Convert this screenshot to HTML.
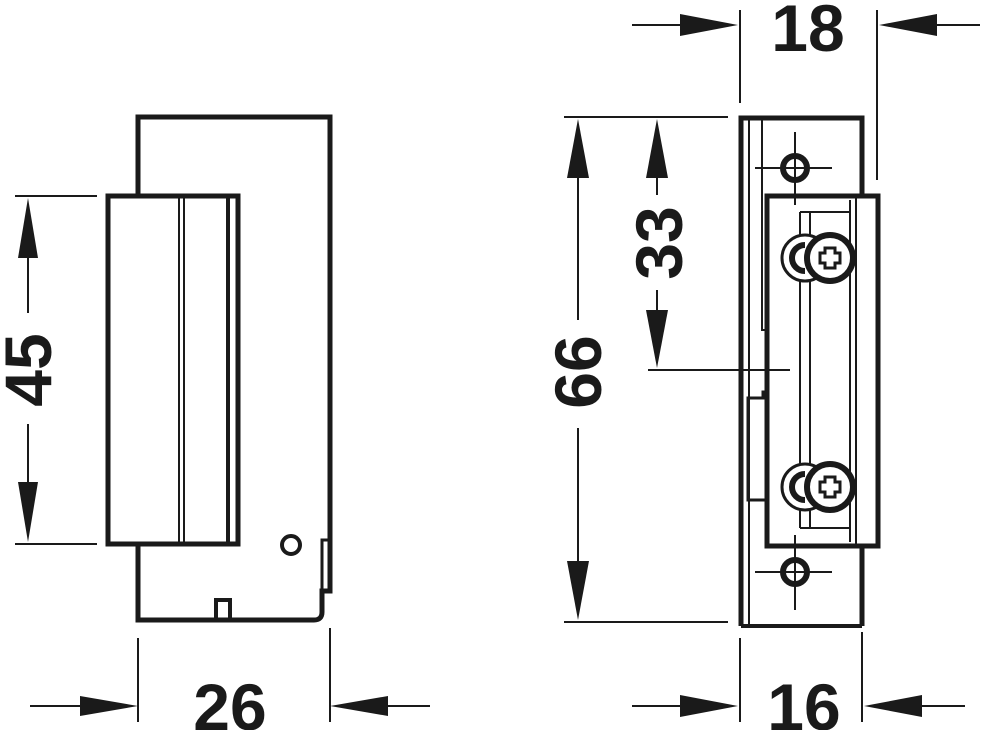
<!DOCTYPE html>
<html><head><style>html,body{margin:0;padding:0;background:#fff}svg{display:block}</style></head><body>
<svg width="981" height="730" viewBox="0 0 981 730" xmlns="http://www.w3.org/2000/svg">
<g stroke="#1a1a1a" fill="none" stroke-linecap="butt">
<!-- LEFT VIEW -->
<path d="M138,196 V117 H330 V591 H322 V612 Q322,620 314,620 H138 V544" stroke-width="5"/>
<rect x="108" y="196" width="130" height="348" stroke-width="5"/>
<line x1="179" y1="196" x2="179" y2="544" stroke-width="2"/>
<line x1="184" y1="196" x2="184" y2="544" stroke-width="2"/>
<line x1="228" y1="196" x2="228" y2="544" stroke-width="4"/>
<circle cx="291" cy="545" r="9" stroke-width="4"/>
<path d="M322,591 V540 H330" stroke-width="3"/>
<path d="M216,620 V600 H230 V620" stroke-width="4"/>
<!-- left dims -->
<line x1="15" y1="196" x2="97" y2="196" stroke-width="2"/>
<line x1="15" y1="544" x2="97" y2="544" stroke-width="2"/>
<line x1="28" y1="240" x2="28" y2="313" stroke-width="2"/>
<line x1="28" y1="424" x2="28" y2="500" stroke-width="2"/>
<line x1="138" y1="638" x2="138" y2="722" stroke-width="2"/>
<line x1="330" y1="628" x2="330" y2="722" stroke-width="2"/>
<line x1="30" y1="706" x2="90" y2="706" stroke-width="2"/>
<line x1="380" y1="706" x2="430" y2="706" stroke-width="2"/>
<!-- RIGHT VIEW -->
<path d="M741,626 V118 H862 V196" stroke-width="5"/>
<line x1="862" y1="546" x2="862" y2="626" stroke-width="5"/>
<line x1="741" y1="626" x2="862" y2="626" stroke-width="4"/>
<line x1="749" y1="118" x2="749" y2="626" stroke-width="2"/>
<path d="M762,118 V330 H768" stroke-width="2"/>
<path d="M768,392 H763 V398 H748 V500 H768" stroke-width="3"/>
<rect x="767" y="196" width="111" height="350" stroke-width="5"/>
<line x1="856" y1="196" x2="856" y2="546" stroke-width="2"/>
<line x1="850" y1="200" x2="850" y2="542" stroke-width="2"/>
<line x1="800" y1="212" x2="800" y2="528" stroke-width="2"/>
<line x1="810" y1="212" x2="810" y2="528" stroke-width="2"/>
<path d="M800,212 H850 M800,528 H850" stroke-width="2"/>
<!-- holes -->
<circle cx="795" cy="168" r="12" stroke-width="6"/>
<circle cx="795" cy="572" r="12" stroke-width="6"/>
<path d="M755,168 H832 M795,132 V205 M755,572 H832 M795,535 V610" stroke-width="2"/>
<!-- screws -->
<g>
<circle cx="805" cy="258" r="23" fill="#fff" stroke-width="3"/>
<path d="M805,245 A13,13 0 0 0 805,271" stroke-width="6"/>
<circle cx="830" cy="258" r="23" fill="#fff" stroke-width="6"/>
<path d="M825,248 h10 v5 h5 v10 h-5 v5 h-10 v-5 h-5 v-10 h5 z" stroke-width="3"/>
<circle cx="805" cy="487" r="23" fill="#fff" stroke-width="3"/>
<path d="M805,474 A13,13 0 0 0 805,500" stroke-width="6"/>
<circle cx="830" cy="487" r="23" fill="#fff" stroke-width="6"/>
<path d="M825,477 h10 v5 h5 v10 h-5 v5 h-10 v-5 h-5 v-10 h5 z" stroke-width="3"/>
</g>
<!-- right dims -->
<line x1="740" y1="10" x2="740" y2="103" stroke-width="2"/>
<line x1="877" y1="10" x2="877" y2="180" stroke-width="2"/>
<line x1="632" y1="25" x2="690" y2="25" stroke-width="2"/>
<line x1="920" y1="25" x2="980" y2="25" stroke-width="2"/>
<line x1="740" y1="638" x2="740" y2="722" stroke-width="2"/>
<line x1="862" y1="632" x2="862" y2="722" stroke-width="2"/>
<line x1="632" y1="706" x2="690" y2="706" stroke-width="2"/>
<line x1="910" y1="706" x2="965" y2="706" stroke-width="2"/>
<line x1="564" y1="117" x2="728" y2="117" stroke-width="2"/>
<line x1="564" y1="622" x2="728" y2="622" stroke-width="2"/>
<line x1="578" y1="160" x2="578" y2="320" stroke-width="2"/>
<line x1="578" y1="428" x2="578" y2="580" stroke-width="2"/>
<line x1="657" y1="160" x2="657" y2="195" stroke-width="2"/>
<line x1="657" y1="290" x2="657" y2="330" stroke-width="2"/>
<line x1="648" y1="370" x2="790" y2="370" stroke-width="2"/>
</g>
<g fill="#1a1a1a">
<polygon points="28,198 18,258 38,258"/>
<polygon points="28,542 18,482 38,482"/>
<polygon points="138,706 80,696 80,716"/>
<polygon points="330,706 388,696 388,716"/>
<polygon points="738,25 680,14 680,36"/>
<polygon points="879,25 937,14 937,36"/>
<polygon points="738,706 680,695 680,717"/>
<polygon points="864,706 922,695 922,717"/>
<polygon points="578,119 567,178 589,178"/>
<polygon points="578,620 567,561 589,561"/>
<polygon points="657,119 646,178 668,178"/>
<polygon points="657,368 646,310 668,310"/>
</g>
<g font-family="Liberation Sans, sans-serif" font-weight="bold" font-size="66" fill="#1a1a1a" text-anchor="middle">
<text x="808" y="51">18</text>
<text x="230" y="730">26</text>
<text x="804" y="730">16</text>
<text transform="translate(51,370) rotate(-90)">45</text>
<text transform="translate(601,372) rotate(-90)">66</text>
<text transform="translate(682,243) rotate(-90)">33</text>
</g>
</svg>
</body></html>
